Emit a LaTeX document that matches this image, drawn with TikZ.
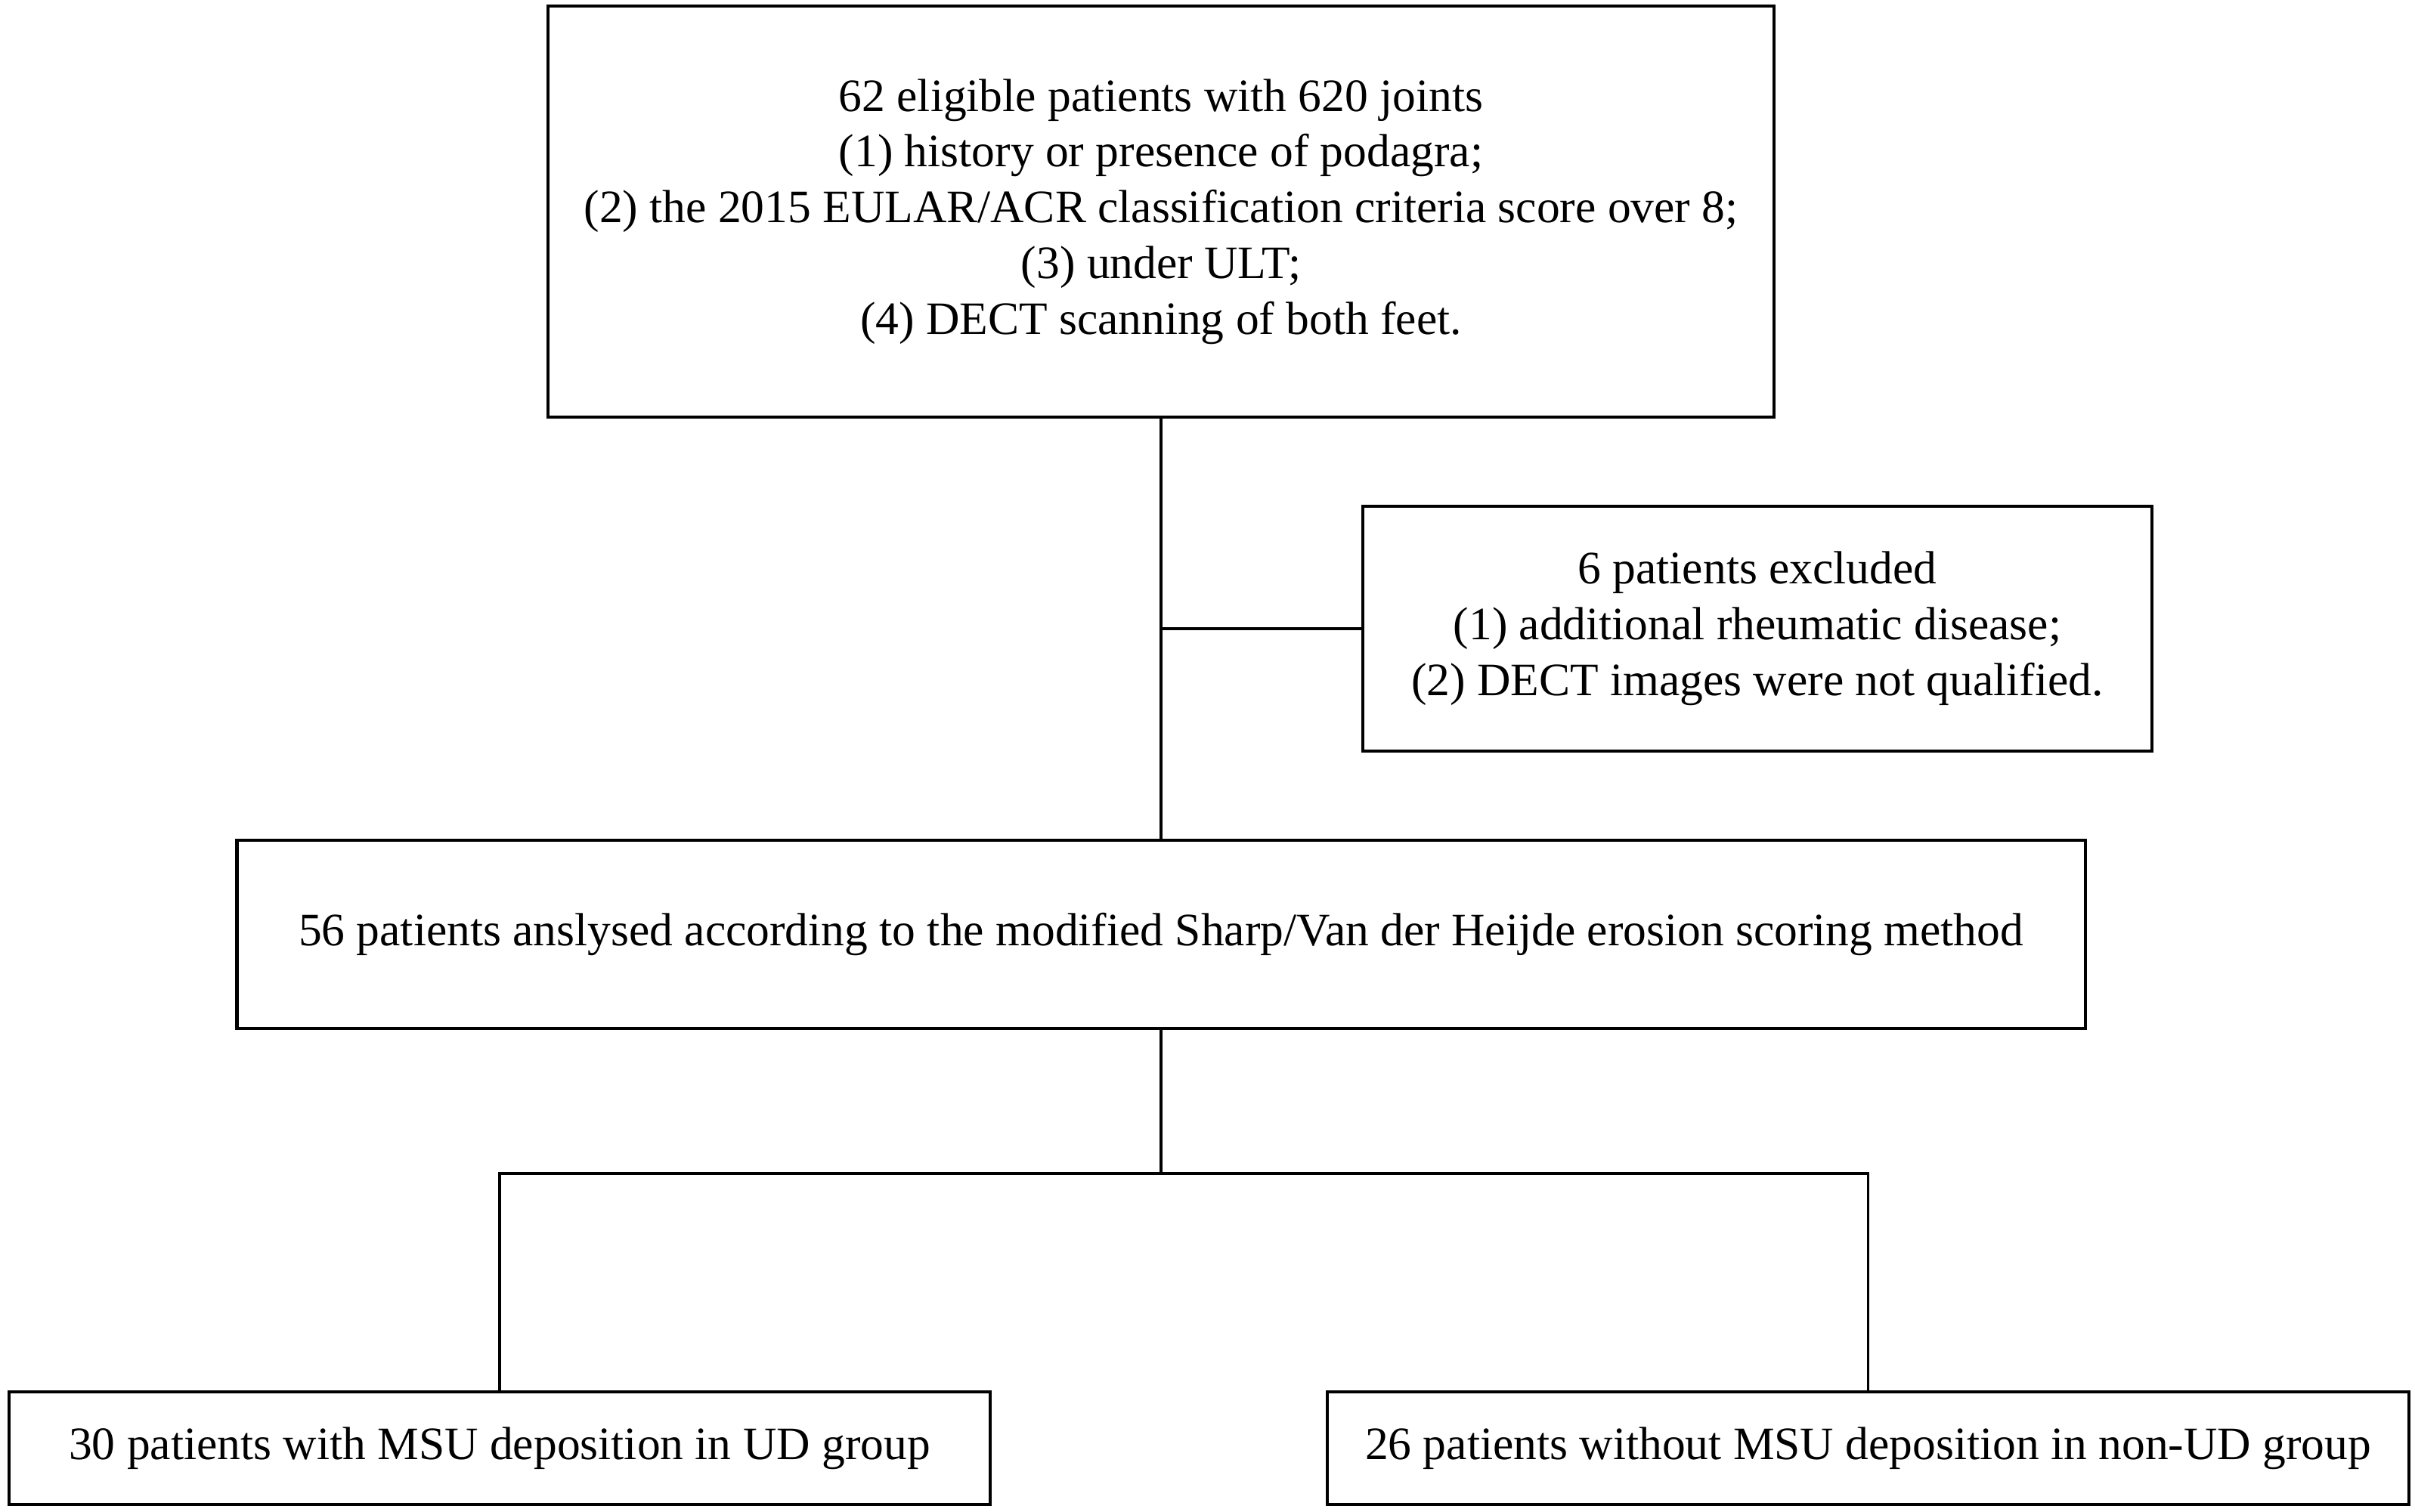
\documentclass[tikz,border=0pt]{standalone}
\usepackage{fontspec}
\setmainfont{Liberation Serif}
\usepackage{tikz}

\begin{document}
\begin{tikzpicture}[
  box/.style={draw,line width=1.15pt,inner sep=0pt,align=center,
    font=\fontsize{17.5pt}{21pt}\selectfont},
  link/.style={line width=1pt}]

\useasboundingbox (0,0) rectangle (31.95,20);

\node[box,minimum width=16.22cm,minimum height=5.44cm] (elig) at (15.36,17.20)
  {62 eligible patients with 620 joints\\
   (1) history or presence of podagra;\\
   (2) the 2015 EULAR/ACR classification criteria score over 8;\\
   (3) under ULT;\\
   (4) DECT scanning of both feet.};

\node[box,minimum width=10.44cm,minimum height=3.24cm] (excl) at (23.25,11.68)
  {6 patients excluded\\
   (1) additional rheumatic disease;\\
   (2) DECT images were not qualified.};

\node[box,minimum width=24.45cm,minimum height=2.49cm] (anal) at (15.36,7.635)
  {56 patients anslysed according to the modified Sharp/Van der Heijde erosion scoring method};

\node[box,minimum width=12.98cm,minimum height=1.49cm] (ud) at (6.61,0.835)
  {30 patients with MSU deposition in UD group};
\node[box,minimum width=14.31cm,minimum height=1.49cm] (nonud) at (24.715,0.835)
  {26 patients without MSU deposition in non-UD group};

\coordinate (split) at (15.36,4.47);

\draw[link] (elig.south) -- (anal.north);
\draw[link] (elig.south |- excl.west) -- (excl.west);
\draw[link] (anal.south) -- (split);
\draw[link] (ud.north) |- (split) -| (nonud.north);
\end{tikzpicture}
\end{document}
